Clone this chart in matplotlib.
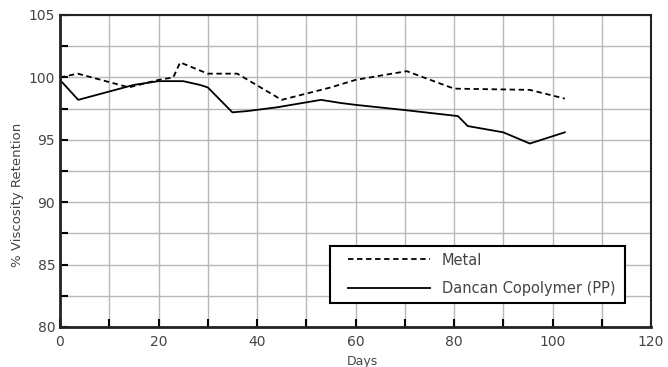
import matplotlib.pyplot as plt
from matplotlib.ticker import MultipleLocator
from matplotlib.legend_handler import HandlerLine2D

# viscosity retention over time for two container types
metal_days = [0, 3.6, 14, 20, 23, 24.4, 30, 36, 45, 55, 60, 70.4, 80, 95.4, 102.5]
metal_vals = [100.0, 100.3, 99.2, 99.8, 100.0, 101.2, 100.3, 100.3, 98.2, 99.2, 99.8, 100.5, 99.1, 99.0, 98.3]

pp_days = [0, 3.7, 15, 20, 25, 28.4, 30, 35, 38, 44, 53, 57, 60, 69.6, 80.8, 82.8, 90, 95.4, 102.5]
pp_vals = [99.8, 98.2, 99.4, 99.7, 99.7, 99.4, 99.2, 97.2, 97.3, 97.6, 98.2, 97.95, 97.8, 97.4, 96.9, 96.1, 95.6, 94.7, 95.6]

plt.rcParams['font.family'] = ['DejaVu Sans']
txt = '#444444'

W, H = 668, 367
fig = plt.figure(figsize=(W / 100, H / 100), dpi=100)
ax = fig.add_axes([60 / W, 1 - 327 / H, 591 / W, 312 / H])

l1, = ax.plot(metal_days, metal_vals, color='black', lw=1.3, ls=(0, (3, 2)), label='Metal')
l2, = ax.plot(pp_days, pp_vals, color='black', lw=1.3, label='Dancan Copolymer (PP)')

ax.set_xlim(0, 120)
ax.set_ylim(80, 105)
ax.xaxis.set_major_locator(MultipleLocator(20))
ax.xaxis.set_minor_locator(MultipleLocator(10))
ax.yaxis.set_major_locator(MultipleLocator(5))
ax.yaxis.set_minor_locator(MultipleLocator(2.5))
ax.grid(True, which='both', color='#b8b8b8', lw=1.0)
ax.set_axisbelow(True)
ax.tick_params(which='both', direction='in', length=6, width=1.5, colors='black',
               labelcolor=txt, labelsize=10, top=False, right=False)
ax.tick_params(axis='x', pad=6)
for s in ax.spines.values():
    s.set_color('#222222')
    s.set_linewidth(1.5)
ax.spines['left'].set_linewidth(2)
ax.spines['bottom'].set_linewidth(2)

# axis titles placed in pixel positions
fig.text(362 / W, 1 - 362 / H, 'Days', color=txt, fontsize=9, ha='center', va='center')
fig.text(18 / W, 1 - 195 / H, '% Viscosity Retention', color=txt, fontsize=9.5,
         rotation=90, ha='center', va='center')

hmap = {l1: HandlerLine2D(xpad=0.8), l2: HandlerLine2D(xpad=0.8)}
leg = ax.legend(loc='lower left', bbox_to_anchor=(0.457, 0.077, 0.499, 0.179),
                mode='expand', fancybox=False, framealpha=1, edgecolor='black',
                fontsize=10.5, handlelength=6.4, handletextpad=0.8, borderaxespad=0,
                borderpad=0.45, labelspacing=0.95, handler_map=hmap)
leg.get_frame().set_linewidth(1.5)
for t in leg.get_texts():
    t.set_color(txt)

fig.savefig('out.png', dpi=100)
